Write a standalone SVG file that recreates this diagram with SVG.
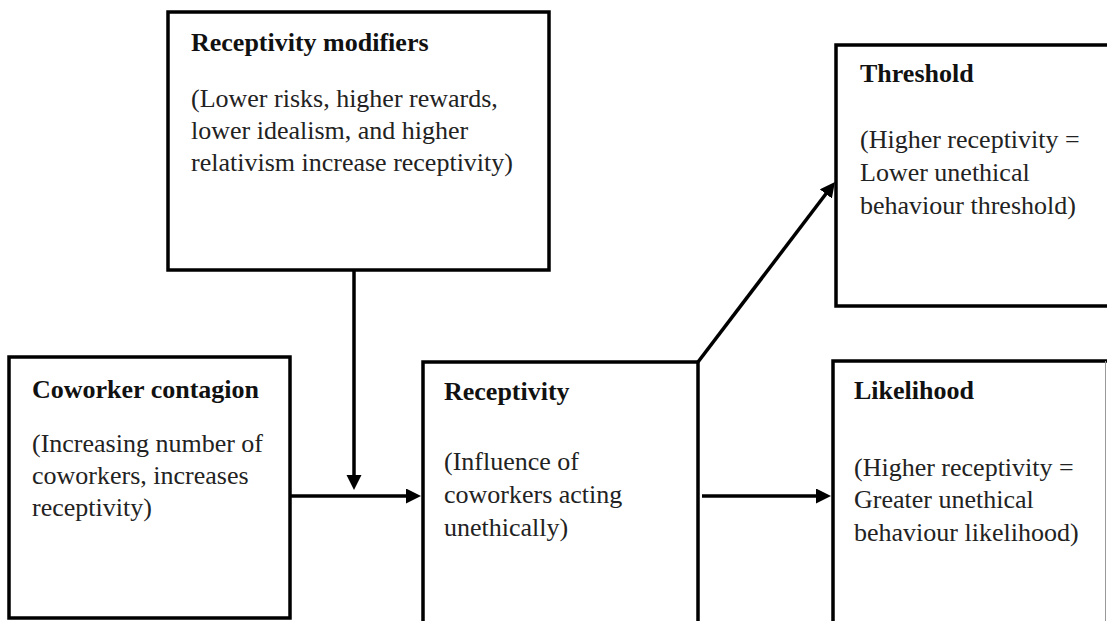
<svg xmlns="http://www.w3.org/2000/svg" width="1107" height="621" viewBox="0 0 1107 621">
<style>
.box{fill:#fff;stroke:#000;stroke-width:3.5}
.t{font-family:"Liberation Serif","Times New Roman",serif;font-size:26px;font-weight:bold;fill:#111}
.b{font-family:"Liberation Serif","Times New Roman",serif;font-size:26px;fill:#222}
.c{fill:none;stroke:#000;stroke-width:3.5}
</style>
<defs>
<marker id="ah" markerUnits="userSpaceOnUse" markerWidth="16" markerHeight="16" refX="3" refY="7.5" orient="auto" viewBox="0 0 16 16">
<path d="M0,0 L15,7.5 L0,15 z" fill="#000"/>
</marker>
</defs>
<rect width="1107" height="621" fill="#fff"/>
<g id="modifiers">
<rect class="box" x="168" y="12" width="381" height="258"/>
<text class="t" x="191" y="51">Receptivity modifiers</text>
<text class="b" x="191" y="107">(Lower risks, higher rewards,</text>
<text class="b" x="191" y="139">lower idealism, and higher</text>
<text class="b" x="191" y="171">relativism increase receptivity)</text>
</g>
<g id="coworker">
<rect class="box" x="9" y="357" width="281" height="261"/>
<text class="t" x="32" y="398">Coworker contagion</text>
<text class="b" x="32" y="452">(Increasing number of</text>
<text class="b" x="32" y="484">coworkers, increases</text>
<text class="b" x="32" y="516">receptivity)</text>
</g>
<g id="receptivity">
<rect class="box" x="423" y="362" width="275" height="280"/>
<text class="t" x="444" y="400">Receptivity</text>
<text class="b" x="444" y="470">(Influence of</text>
<text class="b" x="444" y="503">coworkers acting</text>
<text class="b" x="444" y="536">unethically)</text>
</g>
<g id="threshold">
<rect class="box" x="836" y="45" width="290" height="261"/>
<text class="t" x="860" y="82">Threshold</text>
<text class="b" x="860" y="148">(Higher receptivity =</text>
<text class="b" x="860" y="181">Lower unethical</text>
<text class="b" x="860" y="214">behaviour threshold)</text>
</g>
<g id="likelihood">
<rect class="box" x="833" y="361" width="290" height="280"/>
<line x1="1105.5" y1="361" x2="1105.5" y2="621" stroke="#999" stroke-width="1"/>
<text class="t" x="854" y="399">Likelihood</text>
<text class="b" x="854" y="476">(Higher receptivity =</text>
<text class="b" x="854" y="508">Greater unethical</text>
<text class="b" x="854" y="541">behaviour likelihood)</text>
</g>
<g id="connectors">
<line class="c" x1="354" y1="271" x2="354" y2="478" marker-end="url(#ah)"/>
<line class="c" x1="291" y1="496" x2="409" y2="496" marker-end="url(#ah)"/>
<line class="c" x1="702" y1="496" x2="819" y2="496" marker-end="url(#ah)"/>
<line class="c" x1="698" y1="362" x2="827.7" y2="191.5" marker-end="url(#ah)"/>
</g>
</svg>
